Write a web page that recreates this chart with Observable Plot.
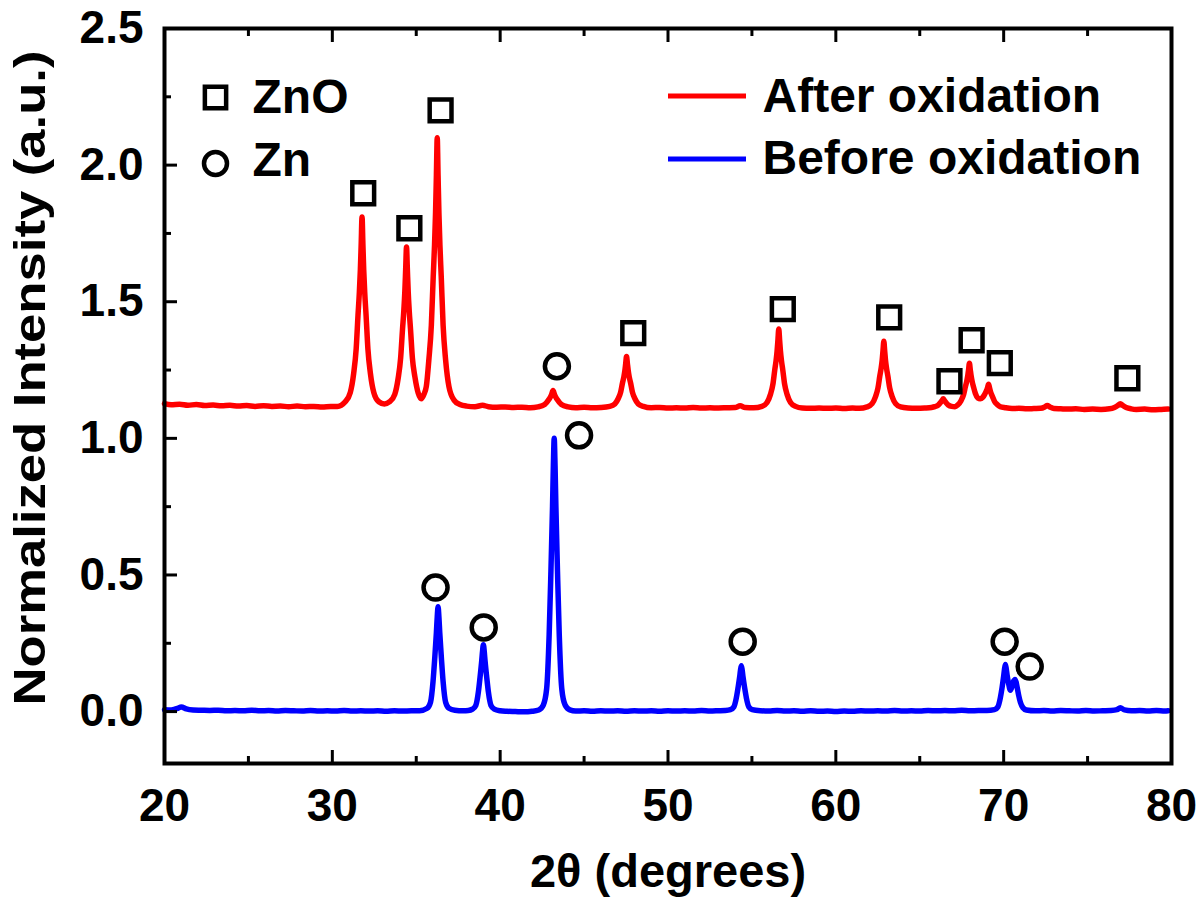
<!DOCTYPE html>
<html><head><meta charset="utf-8">
<script src="https://cdn.jsdelivr.net/npm/d3@7"></script>
<script src="https://cdn.jsdelivr.net/npm/@observablehq/plot@0.6"></script>
<style>body{margin:0;background:#fff} #chart{width:1200px;height:897px}</style>
</head><body><div id="chart"></div>
<script>
// After oxidation pattern [2theta, intensity]
const afterOx = [[20.0,1.127],[20.4,1.123],[20.9,1.125],[21.4,1.121],[21.9,1.124],[22.4,1.12],[22.9,1.122],[23.4,1.119],[23.9,1.121],[24.4,1.118],[24.9,1.12],[25.4,1.117],[25.9,1.119],[26.4,1.117],[26.9,1.118],[27.4,1.116],[27.9,1.118],[28.4,1.116],[28.9,1.117],[29.4,1.115],[29.9,1.117],[30.3,1.117],[30.77,1.134],[31.07,1.168],[31.27,1.237],[31.42,1.327],[31.53,1.451],[31.61,1.534],[31.67,1.617],[31.72,1.713],[31.77,1.81],[31.82,1.713],[31.87,1.617],[31.93,1.534],[32.01,1.451],[32.12,1.327],[32.27,1.237],[32.47,1.168],[32.77,1.134],[33.1,1.126],[33.42,1.134],[33.72,1.161],[33.92,1.219],[34.07,1.294],[34.18,1.398],[34.26,1.468],[34.32,1.538],[34.37,1.619],[34.42,1.70],[34.47,1.619],[34.52,1.538],[34.58,1.468],[34.66,1.398],[34.77,1.294],[34.92,1.225],[35.12,1.165],[35.3,1.145],[35.45,1.16],[35.6,1.19],[35.75,1.287],[35.9,1.414],[36.01,1.59],[36.09,1.708],[36.15,1.826],[36.2,1.963],[36.25,2.10],[36.3,1.963],[36.35,1.826],[36.41,1.708],[36.49,1.59],[36.6,1.414],[36.75,1.287],[36.95,1.189],[37.25,1.14],[37.6,1.124],[38.0,1.118],[38.5,1.116],[38.95,1.121],[39.3,1.116],[39.8,1.114],[40.3,1.115],[40.8,1.113],[41.3,1.114],[41.8,1.112],[42.25,1.115],[42.65,1.124],[42.91,1.143],[43.05,1.158],[43.15,1.175],[43.25,1.158],[43.39,1.143],[43.65,1.124],[44.05,1.115],[44.5,1.112],[45.0,1.114],[45.5,1.112],[46.0,1.113],[46.53,1.117],[46.83,1.126],[47.03,1.145],[47.18,1.169],[47.29,1.203],[47.37,1.225],[47.43,1.248],[47.48,1.274],[47.53,1.30],[47.58,1.274],[47.63,1.248],[47.69,1.225],[47.77,1.203],[47.88,1.169],[48.03,1.145],[48.23,1.126],[48.53,1.117],[49.0,1.112],[49.5,1.113],[50.0,1.111],[50.5,1.112],[51.0,1.111],[51.5,1.113],[52.0,1.111],[52.5,1.112],[53.0,1.111],[53.5,1.112],[54.0,1.113],[54.3,1.119],[54.6,1.113],[55.1,1.112],[55.6,1.117],[55.9,1.131],[56.1,1.16],[56.25,1.198],[56.36,1.25],[56.44,1.285],[56.5,1.32],[56.55,1.36],[56.6,1.40],[56.65,1.36],[56.7,1.32],[56.76,1.285],[56.84,1.25],[56.95,1.198],[57.1,1.16],[57.3,1.131],[57.6,1.117],[58.0,1.111],[58.5,1.11],[59.0,1.111],[59.5,1.11],[60.0,1.111],[60.5,1.109],[61.0,1.111],[61.4,1.11],[61.86,1.115],[62.16,1.127],[62.36,1.152],[62.51,1.184],[62.62,1.228],[62.7,1.257],[62.76,1.286],[62.81,1.321],[62.86,1.355],[62.91,1.321],[62.96,1.286],[63.02,1.257],[63.1,1.228],[63.21,1.184],[63.36,1.152],[63.56,1.127],[63.86,1.115],[64.3,1.111],[64.8,1.11],[65.3,1.111],[65.7,1.113],[65.9,1.116],[66.1,1.122],[66.25,1.132],[66.35,1.14],[66.4,1.145],[66.45,1.14],[66.55,1.132],[66.7,1.122],[66.9,1.117],[67.1,1.116],[67.26,1.122],[67.46,1.138],[67.61,1.16],[67.72,1.189],[67.8,1.209],[67.86,1.229],[67.91,1.252],[67.96,1.275],[68.01,1.252],[68.06,1.229],[68.12,1.209],[68.2,1.189],[68.31,1.165],[68.46,1.148],[68.6,1.145],[68.75,1.15],[68.86,1.16],[68.94,1.17],[69.0,1.178],[69.05,1.188],[69.1,1.198],[69.15,1.187],[69.2,1.174],[69.26,1.163],[69.34,1.152],[69.45,1.136],[69.6,1.125],[69.8,1.116],[70.1,1.112],[70.5,1.109],[70.9,1.11],[71.4,1.108],[71.8,1.109],[72.2,1.11],[72.45,1.115],[72.6,1.12],[72.75,1.115],[73.0,1.109],[73.4,1.108],[73.8,1.107],[74.3,1.108],[74.8,1.106],[75.3,1.107],[75.8,1.106],[76.3,1.108],[76.6,1.113],[76.8,1.12],[76.95,1.127],[77.1,1.12],[77.3,1.113],[77.6,1.108],[77.9,1.106],[78.4,1.107],[78.9,1.105],[79.4,1.106],[79.8,1.107]];

// Before oxidation pattern [2theta, intensity]
const beforeOx = [[20.0,0.007],[20.4,0.006],[20.8,0.012],[21.0,0.017],[21.3,0.01],[21.7,0.006],[22.2,0.005],[22.7,0.004],[23.2,0.005],[23.7,0.003],[24.2,0.004],[24.7,0.003],[25.2,0.005],[25.7,0.003],[26.2,0.004],[26.7,0.002],[27.2,0.004],[27.7,0.003],[28.2,0.002],[28.7,0.004],[29.2,0.002],[29.7,0.003],[30.2,0.002],[30.7,0.004],[31.2,0.002],[31.7,0.003],[32.2,0.002],[32.7,0.003],[33.2,0.001],[33.7,0.003],[34.2,0.002],[34.7,0.003],[35.2,0.003],[35.65,0.012],[35.85,0.034],[36.0,0.11],[36.1,0.194],[36.2,0.289],[36.25,0.346],[36.3,0.384],[36.35,0.346],[36.4,0.289],[36.5,0.194],[36.6,0.11],[36.75,0.034],[36.95,0.012],[37.3,0.005],[37.8,0.003],[38.1,0.004],[38.35,0.009],[38.55,0.023],[38.7,0.071],[38.8,0.125],[38.9,0.185],[38.95,0.221],[39.0,0.245],[39.05,0.221],[39.1,0.185],[39.2,0.125],[39.3,0.071],[39.45,0.023],[39.65,0.009],[40.0,0.003],[40.4,0.001],[40.9,0.0],[41.4,-0.001],[41.9,0.001],[42.3,0.006],[42.57,0.024],[42.77,0.084],[42.92,0.283],[43.02,0.502],[43.12,0.751],[43.17,0.9],[43.22,1.0],[43.27,0.9],[43.32,0.751],[43.42,0.502],[43.52,0.283],[43.67,0.084],[43.87,0.024],[44.15,0.006],[44.5,0.002],[45.0,0.003],[45.5,0.001],[46.0,0.003],[46.5,0.002],[47.0,0.003],[47.5,0.001],[48.0,0.003],[48.5,0.002],[49.0,0.003],[49.5,0.001],[50.0,0.003],[50.5,0.002],[51.0,0.003],[51.5,0.002],[52.0,0.004],[52.5,0.002],[53.0,0.003],[53.4,0.004],[53.72,0.007],[53.92,0.017],[54.07,0.05],[54.17,0.086],[54.27,0.127],[54.32,0.152],[54.37,0.168],[54.42,0.152],[54.47,0.127],[54.57,0.086],[54.67,0.05],[54.82,0.017],[55.02,0.007],[55.5,0.003],[56.0,0.002],[56.5,0.004],[57.0,0.002],[57.5,0.003],[58.0,0.001],[58.5,0.003],[59.0,0.001],[59.5,0.002],[60.0,0.0],[60.5,0.002],[61.0,0.001],[61.5,0.003],[62.0,0.002],[62.5,0.003],[63.0,0.002],[63.5,0.004],[64.0,0.002],[64.5,0.003],[65.0,0.002],[65.5,0.004],[66.0,0.003],[66.5,0.004],[67.0,0.003],[67.5,0.005],[68.0,0.003],[68.5,0.004],[69.0,0.004],[69.45,0.007],[69.65,0.017],[69.8,0.05],[69.9,0.086],[70.0,0.13],[70.05,0.155],[70.1,0.172],[70.15,0.158],[70.2,0.135],[70.3,0.1],[70.4,0.078],[70.5,0.093],[70.58,0.11],[70.64,0.115],[70.68,0.117],[70.74,0.108],[70.8,0.09],[70.9,0.058],[71.0,0.033],[71.15,0.014],[71.35,0.006],[71.9,0.003],[72.4,0.004],[72.9,0.002],[73.4,0.004],[73.9,0.003],[74.4,0.002],[74.9,0.004],[75.4,0.002],[75.9,0.003],[76.4,0.004],[76.75,0.007],[76.95,0.014],[77.2,0.006],[77.6,0.003],[78.1,0.004],[78.6,0.002],[79.1,0.004],[79.6,0.002],[79.8,0.003]];

// Phase markers [2theta, intensity]
const znoMarkers = [[31.84,1.897],[34.59,1.769],[36.45,2.2],[47.93,1.385],[56.84,1.473],[63.18,1.443],[66.77,1.209],[68.09,1.359],[69.77,1.275],[77.37,1.22]];
const znMarkers = [[43.38,1.264],[44.70,1.011],[36.15,0.454],[39.02,0.308],[54.45,0.256],[70.06,0.256],[71.55,0.165]];

// Axes
const xMajor = [20,30,40,50,60,70,80];
const xMinor = [25,35,45,55,65,75];
const yMajor = [0,0.5,1.0,1.5,2.0,2.5];
const yMinor = [0.25,0.75,1.25,1.75,2.25];

// Legend
const phaseNames = ["ZnO","Zn"];
const phaseSymbols = ["square","circle"];
const seriesNames = ["After oxidation","Before oxidation"];
const seriesColors = ["#ff0000","#0000ff"];
const xTitle = "2θ (degrees)";
const yTitle = "Normalized Intensity (a.u.)";

const FONT = "'Liberation Sans', Arial, Helvetica, sans-serif";
const px = d => d[0], py = d => d[1];
const legendText = (label, dx, dy) => Plot.text([label], {frameAnchor: "top-left", dx, dy, text: d => d, textAnchor: "start", lineAnchor: "middle", fontSize: 48, fontWeight: "bold"});

const chart = Plot.plot({
  width: 1200, height: 897,
  marginLeft: 164, marginRight: 29, marginTop: 28, marginBottom: 134,
  style: {fontFamily: FONT, background: "#fff", color: "#000"},
  x: {domain: [20, 80]},
  y: {domain: [-0.19, 2.5]},
  marks: [
    Plot.line(afterOx, {x: px, y: py, stroke: seriesColors[0], strokeWidth: 5.5, curve: "monotone-x", strokeLinejoin: "round"}),
    Plot.line(beforeOx, {x: px, y: py, stroke: seriesColors[1], strokeWidth: 5.5, curve: "monotone-x", strokeLinejoin: "round"}),
    Plot.dot(znoMarkers, {x: px, y: py, symbol: "square", r: 12.3, stroke: "#000", strokeWidth: 4.5, fill: "none"}),
    Plot.dot(znMarkers, {x: px, y: py, symbol: "circle", r: 12, stroke: "#000", strokeWidth: 4.5, fill: "none"}),
    // inward ticks
    Plot.axisX(xMajor, {anchor: "bottom", tickSize: 13, dy: -13, fill: "none", strokeWidth: 3, label: null}),
    Plot.axisX(xMinor, {anchor: "bottom", tickSize: 7, dy: -7, fill: "none", strokeWidth: 3, label: null}),
    Plot.axisX(xMajor, {anchor: "top", tickSize: 13, dy: 13, fill: "none", strokeWidth: 3, label: null}),
    Plot.axisX(xMinor, {anchor: "top", tickSize: 7, dy: 7, fill: "none", strokeWidth: 3, label: null}),
    Plot.axisY(yMajor, {anchor: "left", tickSize: 13, dx: 13, fill: "none", strokeWidth: 3, label: null}),
    Plot.axisY(yMinor, {anchor: "left", tickSize: 7, dx: 7, fill: "none", strokeWidth: 3, label: null}),
    // tick labels
    Plot.axisX(xMajor, {anchor: "bottom", tickSize: 0, tickPadding: 25, fontSize: 46, fontWeight: "bold", label: null}),
    Plot.axisY(yMajor, {anchor: "left", tickSize: 0, tickPadding: 21, fontSize: 46, fontWeight: "bold", tickFormat: d3.format(".1f"), label: null}),
    Plot.frame({stroke: "#000", strokeWidth: 4}),
    // phase legend
    Plot.dot([0], {frameAnchor: "top-left", dx: 51, dy: 69, symbol: phaseSymbols[0], r: 12, stroke: "#000", strokeWidth: 4.5, fill: "none"}),
    Plot.dot([0], {frameAnchor: "top-left", dx: 51, dy: 135, symbol: phaseSymbols[1], r: 11.5, stroke: "#000", strokeWidth: 4.5, fill: "none"}),
    legendText(phaseNames[0], 88, 69),
    legendText(phaseNames[1], 88, 132),
    // series legend text
    legendText(seriesNames[0], 598, 68),
    legendText(seriesNames[1], 598, 130),
    // axis titles
    Plot.text([xTitle], {frameAnchor: "bottom", dy: 108, lineAnchor: "middle", text: d => d, fontSize: 47, fontWeight: "bold"}),
    Plot.text([yTitle], {frameAnchor: "left", dx: -134, dy: -18, rotate: -90, textAnchor: "middle", lineAnchor: "middle", text: d => d, fontSize: 44, fontWeight: "bold"})
  ]
});
document.getElementById("chart").appendChild(chart);

const svg = d3.select(chart);
// stretch the y title to match the reference length
svg.selectAll("text").filter(function() { return this.textContent === yTitle; })
  .attr("textLength", 655).attr("lengthAdjust", "spacingAndGlyphs");
// series legend lines
const legendX1 = 668, legendX2 = 746;
[96, 159].forEach((yy, i) => {
  svg.append("line").attr("x1", legendX1).attr("x2", legendX2).attr("y1", yy).attr("y2", yy)
    .attr("stroke", seriesColors[i]).attr("stroke-width", 5);
});
</script>
</body></html>
